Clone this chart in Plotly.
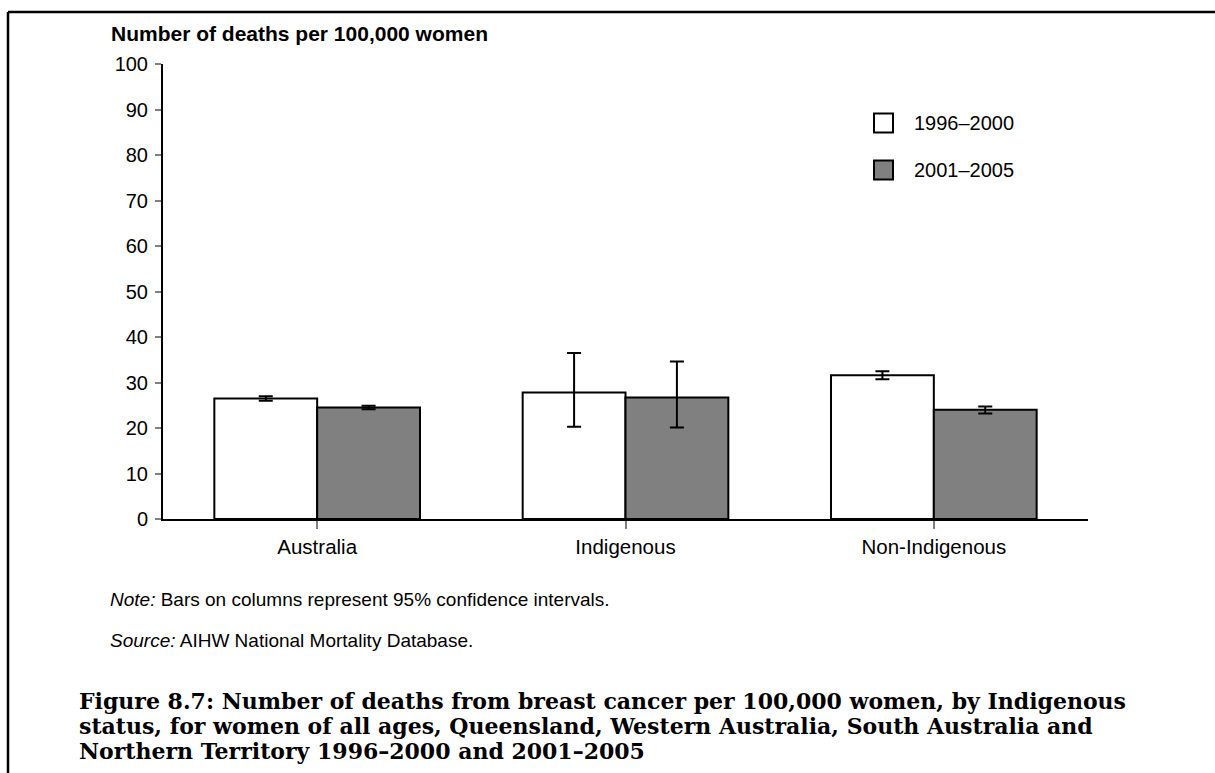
import plotly.graph_objects as go

# Breast cancer deaths per 100,000 women, by Indigenous status
categories = ["Australia", "Indigenous", "Non-Indigenous"]
periods = ["1996\u20132000", "2001\u20132005"]

rate_1996_2000 = [26.5, 27.8, 31.6]
ci_low_1996_2000 = [26.0, 20.3, 30.7]
ci_high_1996_2000 = [27.0, 36.5, 32.5]

rate_2001_2005 = [24.5, 26.7, 24.0]
ci_low_2001_2005 = [24.1, 20.1, 23.2]
ci_high_2001_2005 = [24.9, 34.6, 24.7]

y_ticks = [0, 10, 20, 30, 40, 50, 60, 70, 80, 90, 100]

W, H = 1215, 773
ML, MR, MT, MB = 163, 127, 64, 254
PW, PH = W - ML - MR, H - MT - MB


def px(x):
    return (x - ML) / PW


def py(y):
    return (H - MB - y) / PH


SANS = "Liberation Sans, Arial, sans-serif"
SERIF = "DejaVu Serif, serif"


def err(vals, lo, hi):
    return dict(
        type="data",
        symmetric=False,
        array=[h - v for v, h in zip(vals, hi)],
        arrayminus=[v - l for v, l in zip(vals, lo)],
        color="black",
        thickness=2,
        width=7,
    )


fig = go.Figure()
fig.add_trace(go.Bar(
    name=periods[0], x=categories, y=rate_1996_2000,
    marker=dict(color="white", line=dict(color="black", width=2)),
    error_y=err(rate_1996_2000, ci_low_1996_2000, ci_high_1996_2000),
    showlegend=False,
))
fig.add_trace(go.Bar(
    name=periods[1], x=categories, y=rate_2001_2005,
    marker=dict(color="#808080", line=dict(color="black", width=2)),
    error_y=err(rate_2001_2005, ci_low_2001_2005, ci_high_2001_2005),
    showlegend=False,
))

shapes = []
annotations = []

# legend swatches and labels
legend_fill = ["white", "#808080"]
legend_y = [123, 170]
for name, fill, yc in zip(periods, legend_fill, legend_y):
    shapes.append(dict(
        type="rect", xref="paper", yref="paper",
        x0=px(874), x1=px(893), y0=py(yc - 9.5), y1=py(yc + 9.5),
        fillcolor=fill, line=dict(color="black", width=2),
    ))
    annotations.append(dict(
        xref="paper", yref="paper", x=px(912), y=py(yc),
        xanchor="left", yanchor="middle", showarrow=False,
        text=name, font=dict(family=SANS, size=20, color="black"),
    ))

# frame around the figure panel
shapes.append(dict(type="line", xref="paper", yref="paper",
                   x0=px(8), x1=px(8), y0=py(12), y1=py(H + 5),
                   line=dict(color="black", width=2.5)))
shapes.append(dict(type="line", xref="paper", yref="paper",
                   x0=px(8), x1=px(W + 5), y0=py(12), y1=py(12),
                   line=dict(color="black", width=2.5)))

annotations.append(dict(
    xref="paper", yref="paper", x=px(109), y=py(33),
    xanchor="left", yanchor="middle", showarrow=False,
    text="<b>Number of deaths per 100,000 women</b>",
    font=dict(family=SANS, size=21, color="black"),
))
annotations.append(dict(
    xref="paper", yref="paper", x=px(108), y=py(599),
    xanchor="left", yanchor="middle", showarrow=False,
    text="<i>Note:</i> Bars on columns represent 95% confidence intervals.",
    font=dict(family=SANS, size=19, color="black"),
))
annotations.append(dict(
    xref="paper", yref="paper", x=px(108), y=py(640),
    xanchor="left", yanchor="middle", showarrow=False,
    text="<i>Source:</i> AIHW National Mortality Database.",
    font=dict(family=SANS, size=19, color="black"),
))
caption = [
    "Figure 8.7: Number of deaths from breast cancer per 100,000 women, by Indigenous",
    "status, for women of all ages, Queensland, Western Australia, South Australia and",
    "Northern Territory 1996\u20132000 and 2001\u20132005",
]
for line, yc in zip(caption, [701, 726, 751]):
    annotations.append(dict(
        xref="paper", yref="paper", x=px(77), y=py(yc),
        xanchor="left", yanchor="middle", showarrow=False,
        text="<b>" + line + "</b>",
        font=dict(family=SERIF, size=22, color="black"),
    ))

fig.update_layout(
    width=W, height=H,
    margin=dict(l=ML, r=MR, t=MT, b=MB, pad=0),
    paper_bgcolor="white", plot_bgcolor="white",
    barmode="group", bargap=0.333, bargroupgap=0,
    shapes=shapes, annotations=annotations,
    font=dict(family=SANS, size=20, color="black"),
)
fig.update_xaxes(
    range=[-0.5, 2.5], showgrid=False, zeroline=False,
    showline=True, linecolor="black", linewidth=2,
    ticks="outside", ticklen=8, tickcolor="#808080", tickwidth=1.5,
    tickfont=dict(family=SANS, size=20.5, color="black"),
)
fig.update_yaxes(
    range=[0, 100], tickvals=y_ticks, showgrid=False, zeroline=False,
    showline=True, linecolor="black", linewidth=2,
    ticks="outside", ticklen=6, tickcolor="#808080", tickwidth=1.5,
    ticklabelstandoff=3,
    tickfont=dict(family=SANS, size=20, color="black"),
)

fig.write_html("out.html")
